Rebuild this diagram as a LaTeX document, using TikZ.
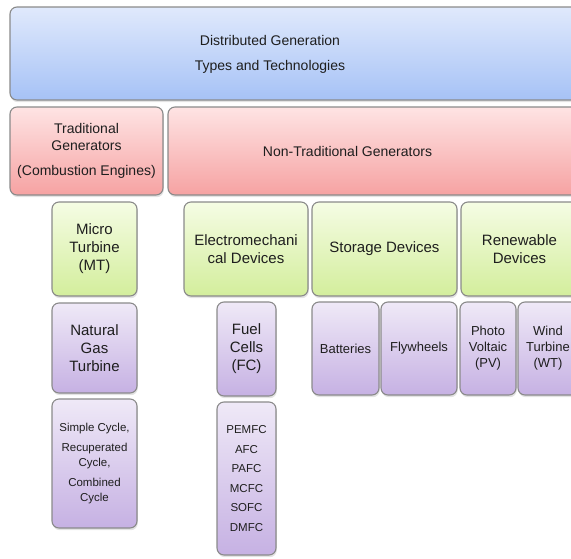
\documentclass[tikz,border=0pt]{standalone}
\usepackage{fontspec}
\setmainfont{Liberation Sans}
\usetikzlibrary{shadows}

\definecolor{framegray}{HTML}{8A8A8A}
\definecolor{inkgray}{HTML}{1E1E1E}
\definecolor{blueA}{HTML}{E0E9FC}
\definecolor{blueB}{HTML}{A6C2F6}
\definecolor{redA}{HTML}{FEE4E4}
\definecolor{redB}{HTML}{F6A2A2}
\definecolor{greenA}{HTML}{F5FCE4}
\definecolor{greenB}{HTML}{D3EE9C}
\definecolor{lilacA}{HTML}{EFE9F7}
\definecolor{lilacB}{HTML}{C6B1E3}

\tikzset{
    box/.style={draw=framegray, line width=1.1pt, rounded corners=7pt, align=center,
        inner sep=1pt, text=inkgray,
        drop shadow={opacity=0.22, shadow xshift=0.8pt, shadow yshift=-2.2pt}},
    sz/.style args={#1/#2}{minimum width=#1pt, minimum height=#2pt},
    topbox/.style={box, top color=blueA, bottom color=blueB},
    genbox/.style={box, top color=redA, bottom color=redB},
    catbox/.style={box, top color=greenA, bottom color=greenB},
    leafbox/.style={box, top color=lilacA, bottom color=lilacB},
    big/.style={font=\fontsize{14}{17}\selectfont},
    mid/.style={font=\fontsize{15}{18}\selectfont},
    small/.style={font=\fontsize{13}{16}\selectfont},
    tiny/.style={font=\fontsize{11.5}{14.5}\selectfont}
}

\begin{document}
\begin{tikzpicture}[x=1pt, y=-1pt]
    \useasboundingbox (0,0) rectangle (571,558);
    \clip (0,0) rectangle (571,558);

    % level 1 and 2
    \node[topbox, sz=568/93] (dg) at (294,53.5) {};
    \node[big, align=center, text=inkgray] (dg-text) at (270,54) {Distributed Generation\\[8pt]Types and Technologies};
    \node[genbox, big, sz=153/88] (trad) at (86.5,151) {Traditional\\Generators\\[8pt](Combustion Engines)};
    \node[genbox, sz=410/88] (nontrad) at (373,151) {};
    \node[big, text=inkgray] (nontrad-text) at (347.5,151) {Non-Traditional Generators};

    % categories
    \node[catbox, mid, sz=85/94] (mt) at (94.5,249) {Micro\\Turbine\\(MT)};
    \node[catbox, mid, sz=124/94] (em) at (246,249) {Electromechani\\cal Devices};
    \node[catbox, mid, sz=145/94] (sd) at (384.5,249) {Storage Devices};
    \node[catbox, mid, sz=117/94] (rd) at (519.5,249) {Renewable\\Devices};

    % leaves
    \node[leafbox, mid, sz=85/90] (ng) at (94.5,348) {Natural\\Gas\\Turbine};
    \node[leafbox, tiny, sz=85/129] (cyc) at (94.5,463.5) {Simple Cycle,\\[6pt]Recuperated\\Cycle,\\[6pt]Combined\\Cycle};
    \node[leafbox, mid, sz=59/94] (fc) at (246.5,349) {Fuel\\Cells\\(FC)};
    \node[leafbox, tiny, sz=59/153] (fct) at (246.5,478.5) {PEMFC\\[5pt]AFC\\[5pt]PAFC\\[5pt]MCFC\\[5pt]SOFC\\[5pt]DMFC};
    \node[leafbox, small, sz=67/93] (bat) at (345.5,348.5) {Batteries};
    \node[leafbox, small, sz=76/93] (fly) at (419,348.5) {Flywheels};
    \node[leafbox, small, sz=56/93] (pv) at (488,348.5) {Photo\\Voltaic\\(PV)};
    \node[leafbox, small, sz=60/93] (wt) at (548,348.5) {Wind\\Turbine\\(WT)};
\end{tikzpicture}
\end{document}
